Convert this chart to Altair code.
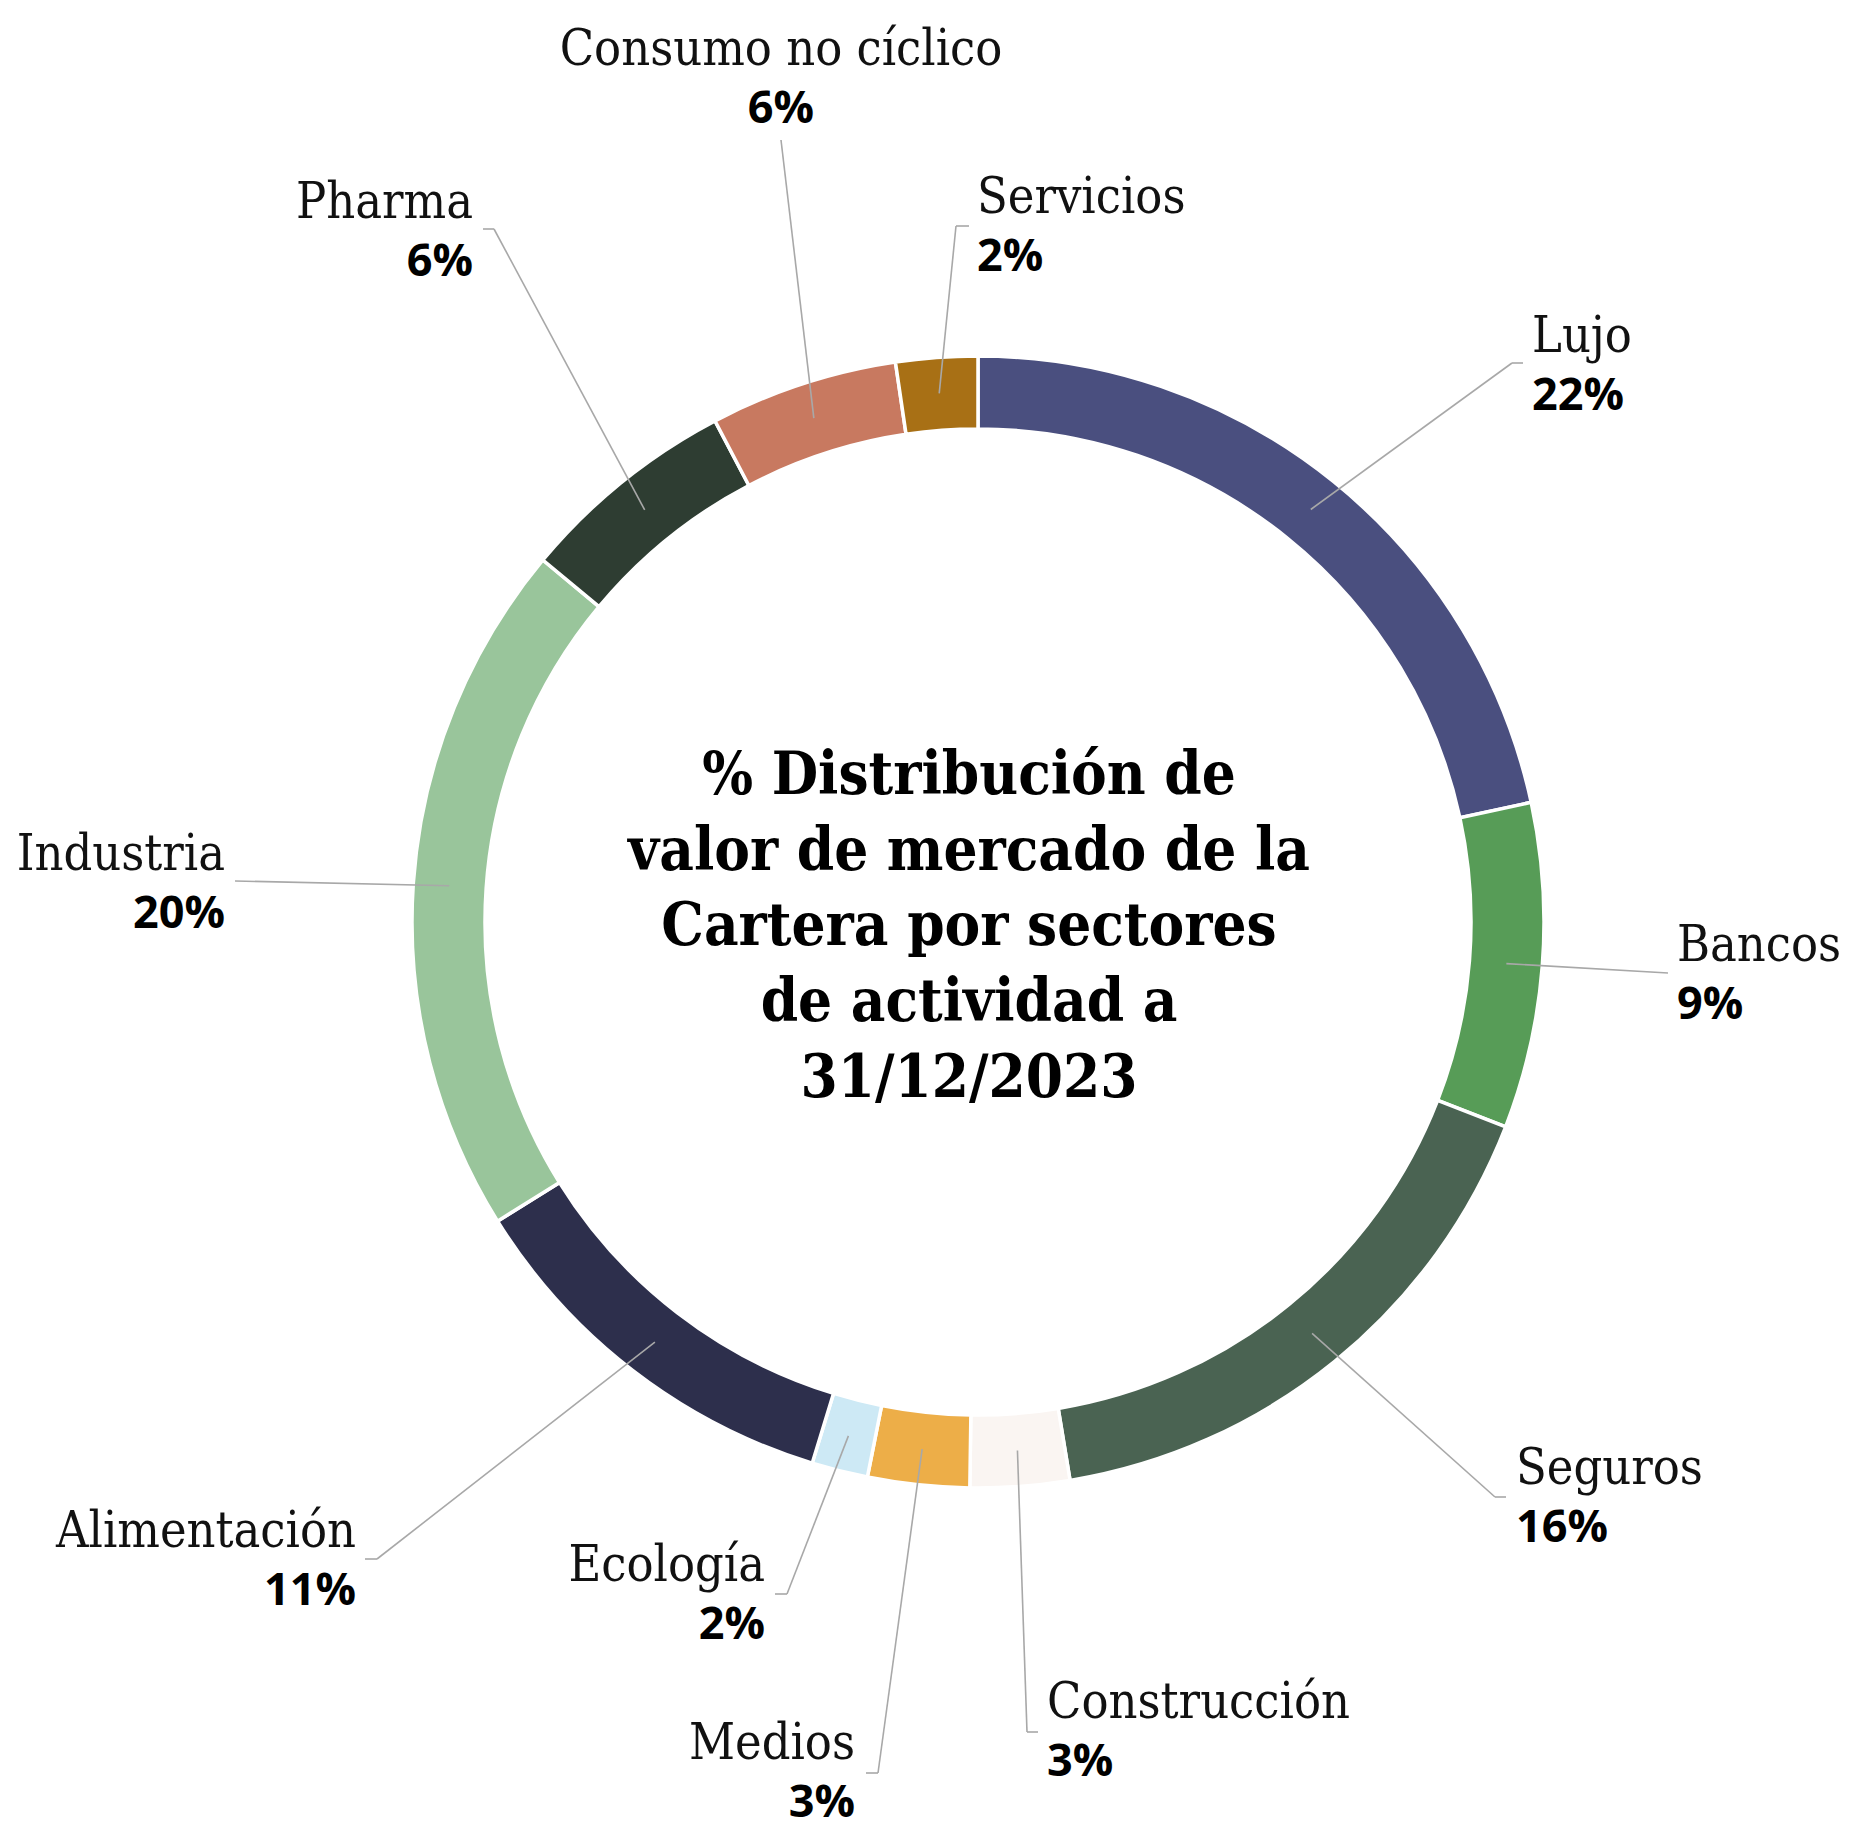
import altair as alt
import pandas as pd

# ---------------- data ----------------
sectors = ["Lujo", "Bancos", "Seguros", "Construcción", "Medios", "Ecología",
           "Alimentación", "Industria", "Pharma", "Consumo no cíclico", "Servicios"]
shares = [21.6, 9.28, 16.5, 2.83, 2.9, 1.6, 11.4, 19.9, 6.26, 5.36, 2.33]
pct_labels = ["22%", "9%", "16%", "3%", "3%", "2%", "11%", "20%", "6%", "6%", "2%"]
colors = ["#4a4f7f", "#579c57", "#4a6352", "#faf5f2", "#edae48", "#cde9f5",
          "#2d2f4c", "#99c59b", "#2e3d32", "#c87960", "#a87015"]
title_lines = ["% Distribución de", "valor de mercado de la", "Cartera por sectores",
               "de actividad a", "31/12/2023"]

# ---------------- layout (page pixels) ----------------
PAGE_W, PAGE_H = 1870, 1830
M = 8
W, H = PAGE_W - 2 * M, PAGE_H - 2 * M
CX, CY = 978, 922
R_OUT, R_IN, R_MID = 566, 493, 530
label_x = [1532, 1677, 1516, 1047, 855, 765, 356, 225, 473, 781, 977]
label_y = [352, 961, 1484, 1718, 1759, 1581, 1547, 870, 218, 65, 213]
label_align = ["left", "left", "left", "left", "right", "right", "right", "right",
               "right", "center", "left"]
elbow_x = [1512, 1668, 1495, 1027, 878, 787, 377, 235, 494, 781, 956]
elbow_y = [363, 973, 1497, 1732, 1773, 1594, 1559, 881, 229, 140, 226]
end_x = [1523, 1668, 1506, 1038, 866, 775, 365, 235, 483, 781, 969]
end_y = elbow_y
PCT_DY = 57.5
TITLE_X, TITLE_Y0, TITLE_LH = 969, 794, 75.7

NAME_FONT = "DejaVu Serif Condensed, DejaVu Serif"
TITLE_FONT = "DejaVu Serif Condensed, DejaVu Serif"
PCT_FONT = "Open Sans"

df = pd.DataFrame({
    "idx": list(range(len(sectors))),
    "sector": sectors,
    "share": shares,
    "pct": pct_labels,
    "lx": label_x,
    "ly": label_y,
    "align": label_align,
    "ex": elbow_x,
    "ey": elbow_y,
    "nx": end_x,
    "ny": end_y,
})
title_df = pd.DataFrame({
    "line": title_lines,
    "tx": [TITLE_X] * len(title_lines),
    "ty": [TITLE_Y0 + i * TITLE_LH for i in range(len(title_lines))],
})

xs = alt.Scale(domain=[M, M + W], nice=False, zero=False)
ys = alt.Scale(domain=[M, M + H], nice=False, zero=False, reverse=True)

base = alt.Chart(df)

arcs = base.mark_arc(outerRadius=R_OUT, innerRadius=R_IN, stroke="white",
                     strokeWidth=3.5).encode(
    theta=alt.Theta("share:Q", stack=True),
    order=alt.Order("idx:Q"),
    color=alt.Color("sector:N", scale=alt.Scale(domain=sectors, range=colors), legend=None),
    x=alt.value(CX - M),
    y=alt.value(CY - M),
)

lead = base.transform_window(
    cum="sum(share)", sort=[alt.SortField("idx")], frame=[None, 0]
).transform_joinaggregate(
    total="sum(share)"
).transform_calculate(
    a="2*PI*(datum.cum - datum.share/2)/datum.total"
).transform_calculate(
    x0=f"{CX} + {R_MID}*sin(datum.a)",
    y0=f"{CY} - {R_MID}*cos(datum.a)",
)

LINE_COLOR = "#a8a8a8"
seg1 = lead.mark_rule(color=LINE_COLOR, strokeWidth=1.6).encode(
    x=alt.X("x0:Q", scale=xs, axis=None),
    y=alt.Y("y0:Q", scale=ys, axis=None),
    x2="ex:Q",
    y2="ey:Q",
)
seg2 = base.mark_rule(color=LINE_COLOR, strokeWidth=1.6).encode(
    x=alt.X("ex:Q", scale=xs, axis=None),
    y=alt.Y("ey:Q", scale=ys, axis=None),
    x2="nx:Q",
    y2="ny:Q",
)

text_layers = []
for al in ["left", "right", "center"]:
    sub = base.transform_filter(alt.datum.align == al)
    names = sub.mark_text(align=al, baseline="alphabetic", font=NAME_FONT,
                          fontSize=50, color="#111111").encode(
        x=alt.X("lx:Q", scale=xs, axis=None),
        y=alt.Y("ly:Q", scale=ys, axis=None),
        text="sector:N",
    )
    pcts = sub.transform_calculate(py=f"datum.ly + {PCT_DY}").mark_text(
        align=al, baseline="alphabetic", font=PCT_FONT, fontSize=45,
        fontWeight="bold", color="#000000").encode(
        x=alt.X("lx:Q", scale=xs, axis=None),
        y=alt.Y("py:Q", scale=ys, axis=None),
        text="pct:N",
    )
    text_layers += [names, pcts]

title = alt.Chart(title_df).mark_text(
    align="center", baseline="alphabetic", font=TITLE_FONT, fontSize=59.5,
    fontWeight="bold", color="#000000").encode(
    x=alt.X("tx:Q", scale=xs, axis=None),
    y=alt.Y("ty:Q", scale=ys, axis=None),
    text="line:N",
)

chart = alt.layer(arcs, seg1, seg2, *text_layers, title).properties(
    width=W, height=H, padding=0, background="white",
    autosize=alt.AutoSizeParams(type="none"),
).configure_view(strokeWidth=0)

chart.save("out.html", embed_options={"renderer": "svg", "actions": False})
